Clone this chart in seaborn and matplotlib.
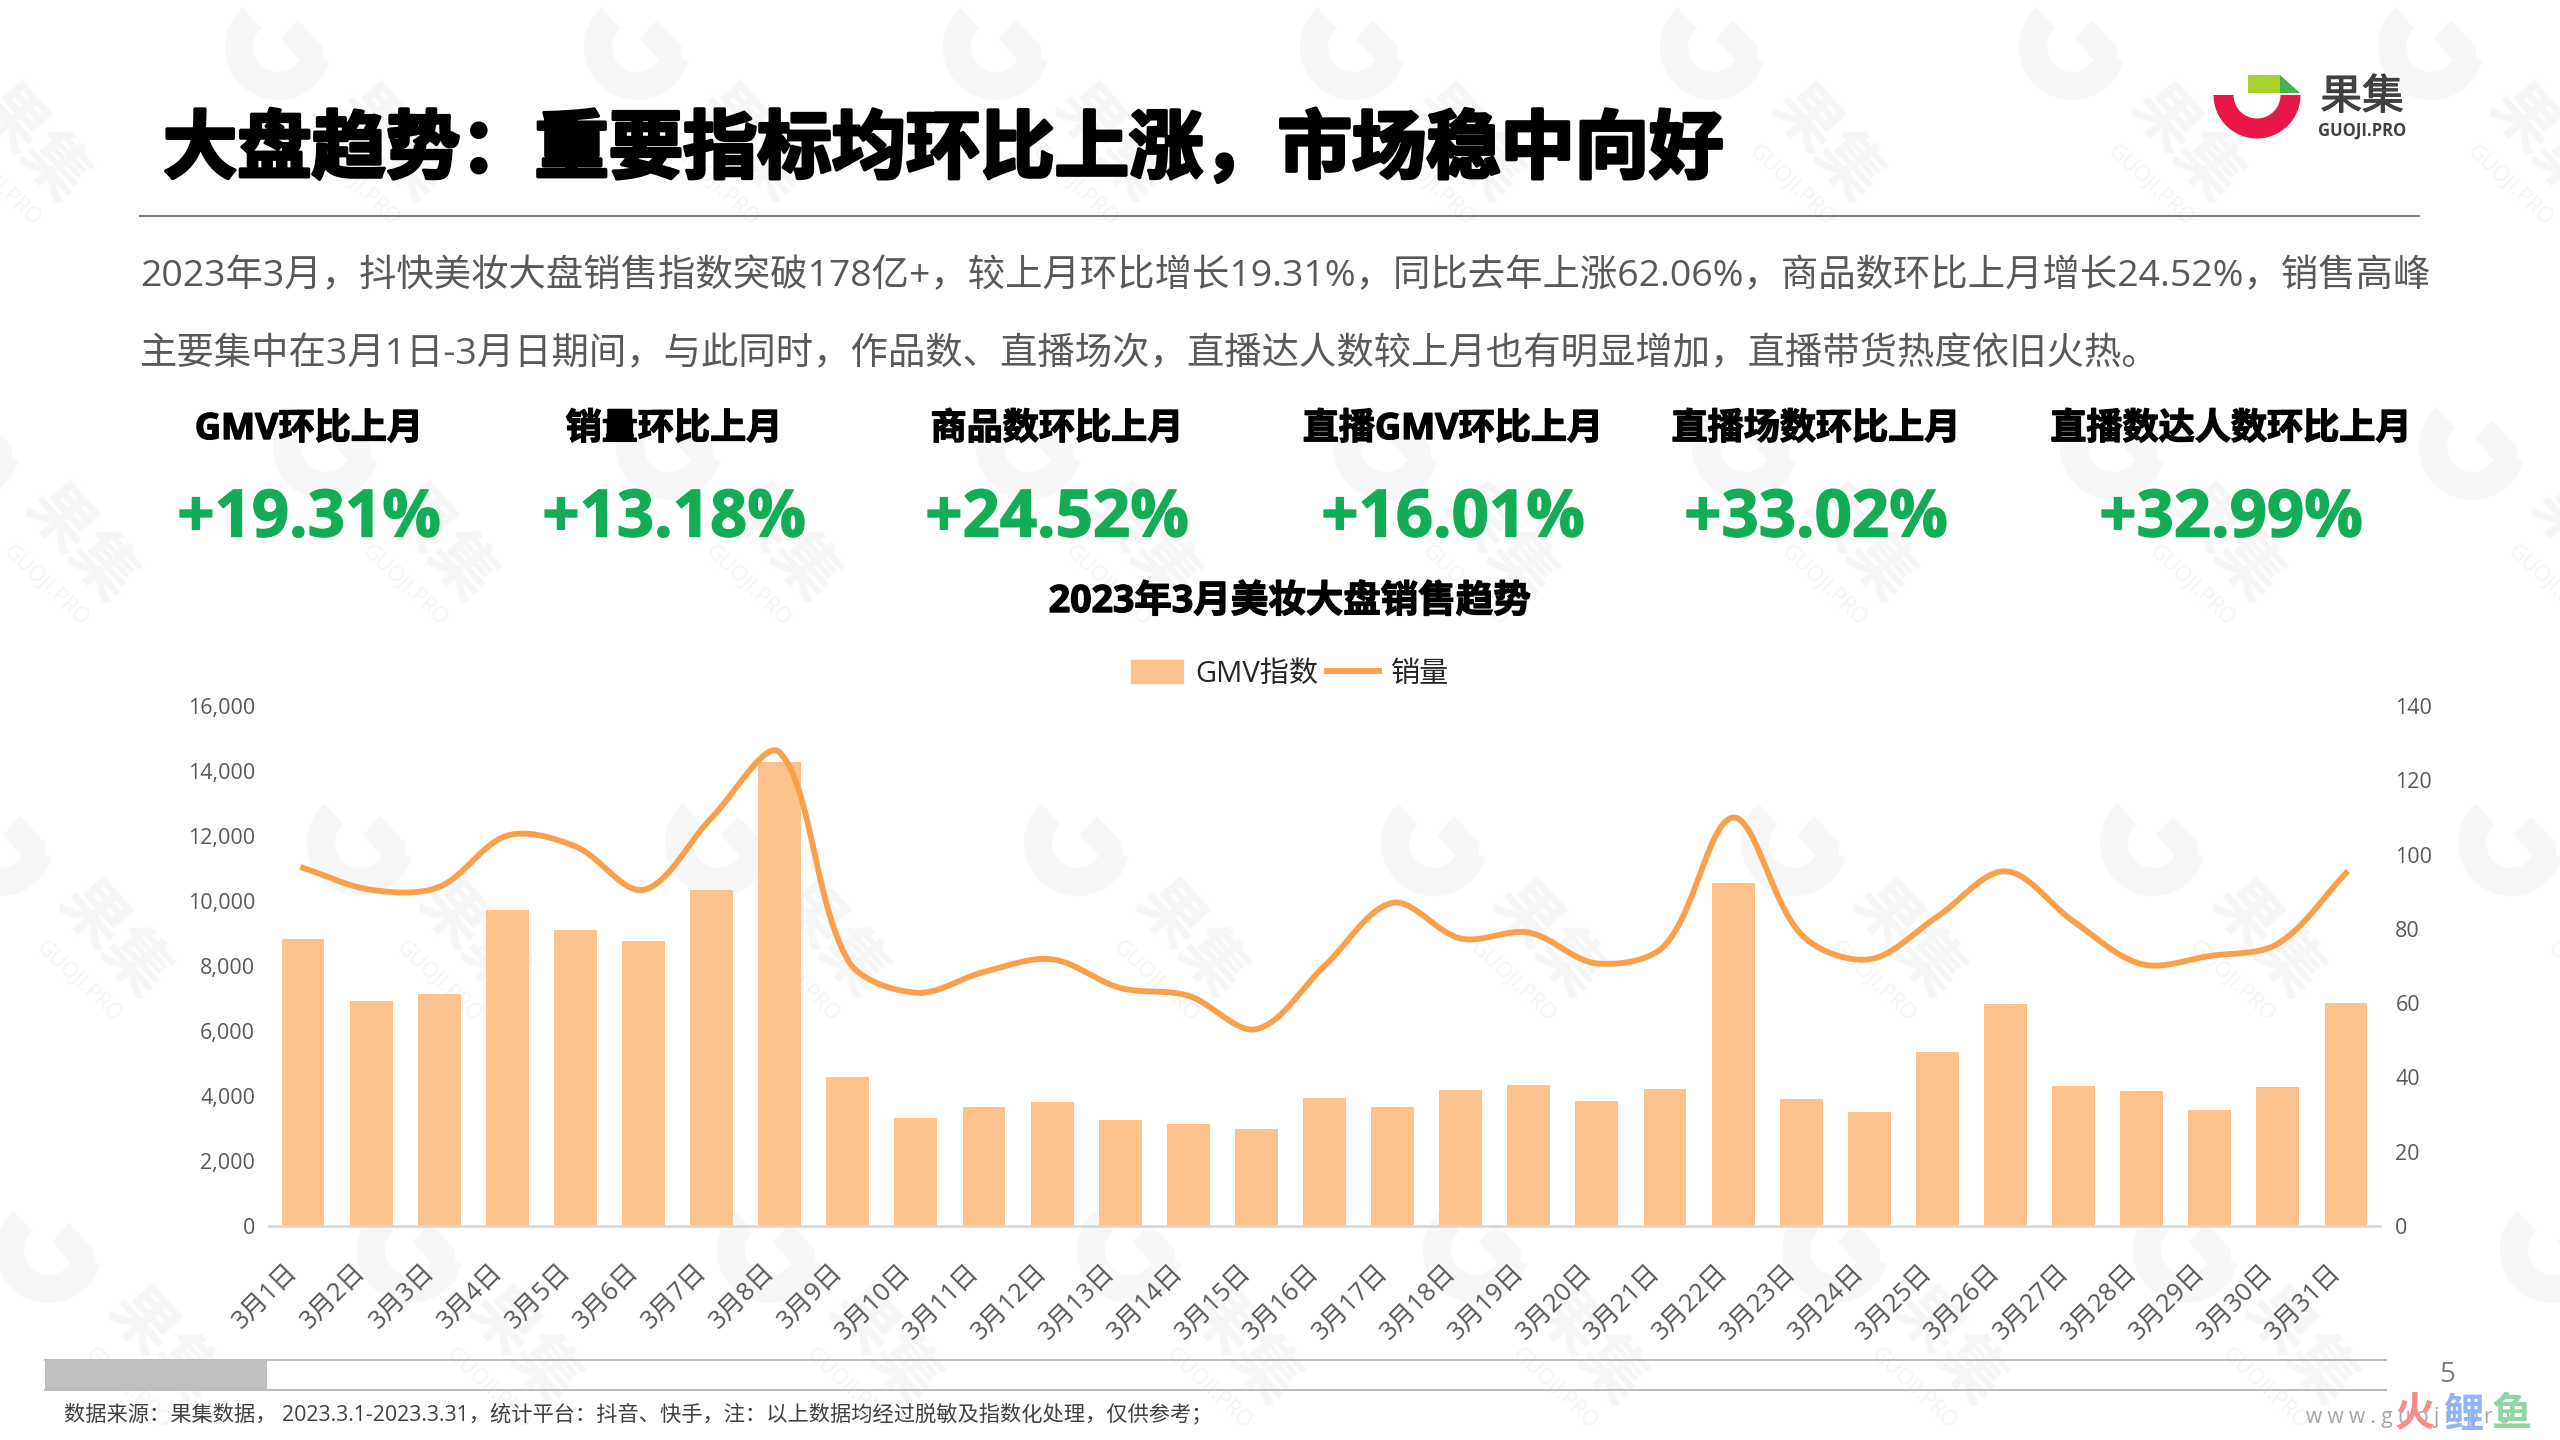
import numpy as np
import pandas as pd
import matplotlib.pyplot as plt
import matplotlib.patheffects as pe
from matplotlib.patches import Wedge, Polygon, Rectangle
from matplotlib.lines import Line2D
import seaborn as sns

plt.rcParams['font.family'] = ['Open Sans', 'Noto Sans CJK SC', 'DejaVu Sans']

days = [f"3月{d}日" for d in range(1, 32)]
gmv = [8840, 6930, 7150, 9730, 9120, 8780, 10350, 14270, 4600, 3310, 3670, 3830, 3270, 3150, 2970, 3950,
       3670, 4190, 4350, 3850, 4220, 10550, 3910, 3510, 5360, 6830, 4320, 4160, 3570, 4290, 6870]
sales = [96.4, 90.5, 91.3, 105.1, 102.2, 90.5, 109.9, 127.5, 71.6, 62.8, 68.4, 71.8, 64.1, 62, 53, 70,
         87, 77.4, 79, 70.7, 75.6, 110, 78.5, 71.8, 83.3, 95.5, 82, 70.5, 72.7, 76, 95]

kpi_names = ["GMV环比上月", "销量环比上月", "商品数环比上月", "直播GMV环比上月", "直播场数环比上月", "直播数达人数环比上月"]
kpi_values = ["+19.31%", "+13.18%", "+24.52%", "+16.01%", "+33.02%", "+32.99%"]
kpi_x = [309, 674, 1057, 1453, 1816, 2231]

title = "大盘趋势\uff1a重要指标均环比上涨\uff0c市场稳中向好"
body_1 = ("2023年3月\uff0c抖快美妆大盘销售指数突破178亿+\uff0c较上月环比增长19.31%\uff0c同比去年上涨62.06%\uff0c"
          "商品数环比上月增长24.52%\uff0c销售高峰")
body_2 = ("主要集中在3月1日-3月日期间\uff0c与此同时\uff0c作品数、直播场次\uff0c直播达人数较上月也有明显增加\uff0c"
          "直播带货热度依旧火热。")
footer = ("数据来源\uff1a果集数据\uff0c 2023.3.1-2023.3.31\uff0c统计平台\uff1a抖音、快手\uff0c注\uff1a"
          "以上数据均经过脱敏及指数化处理\uff0c仅供参考\uff1b")

# watermark rows: y, then the x of each mark
wm_rows = [(47, [-81, 278, 637, 996, 1353, 1713, 2072, 2431]),
           (447, [-33, 326, 669, 1029, 1386, 1745, 2113, 2472]),
           (843, [0, 360, 718, 1077, 1434, 1794, 2153, 2511]),
           (1250, [49, 410, 770, 1130, 1476, 1835, 2186, 2553])]

fig = plt.figure(figsize=(25.6, 14.4), dpi=100)

# --- Page furniture, in pixel coordinates ---
bg = fig.add_axes([0, 0, 1, 1], zorder=-1)
bg.set_xlim(0, 2560)
bg.set_ylim(1440, 0)
bg.axis('off')

for wm_y, wm_xs in wm_rows:
    for wm_x in wm_xs:
        bg.add_patch(Wedge((wm_x, wm_y), 53, 15, 228, width=28, color='#f7f7f7', lw=0, zorder=0.5))
        bg.add_patch(Polygon([[wm_x + 45, wm_y + 32], [wm_x + 45, wm_y], [wm_x + 20, wm_y - 27],
                              [wm_x + 3, wm_y - 8], [wm_x + 22, wm_y + 13]], color='#f7f7f7', lw=0, zorder=0.5))
        bg.text(wm_x + 112, wm_y + 98, "果集", fontsize=47, fontweight='bold', color='#f6f6f6',
                rotation=-48, ha='center', va='center', zorder=0.5)
        bg.text(wm_x + 79, wm_y + 139, "GUOJI.PRO", fontsize=15.5, color='#f4f4f4',
                rotation=-43, ha='center', va='center', zorder=0.5)

bg.plot([140, 2419], [216, 216], color='#808080', lw=1.5)
bg.text(163, 153, title, fontsize=53.5, fontweight='bold', color='black', va='center',
        path_effects=[pe.withStroke(linewidth=2.5, foreground='black')])
bg.text(140, 277, body_1, fontsize=26.9, color='#595959', va='center')
bg.text(140, 355, body_2, fontsize=26.9, color='#595959', va='center')

for i in range(6):
    bg.text(kpi_x[i], 430, kpi_names[i], fontsize=26, fontweight='bold', color='black', ha='center', va='center',
            path_effects=[pe.withStroke(linewidth=1, foreground='black')])
    bg.text(kpi_x[i], 520, kpi_values[i], fontsize=47, fontweight='bold', color='#12AD56', ha='center', va='center',
            path_effects=[pe.withStroke(linewidth=1, foreground='#12AD56')])

bg.text(1290, 602, "2023年3月美妆大盘销售趋势", fontsize=27, fontweight='bold', color='black', ha='center', va='center',
        path_effects=[pe.withStroke(linewidth=1, foreground='black')])

# logo
bg.add_patch(Wedge((2257, 95), 43.5, 0, 180, width=20, color='#E8174A', lw=0))
bg.add_patch(Rectangle((2248, 75), 32, 18, color='#A8D12B', lw=0))
bg.add_patch(Polygon([[2280, 75], [2300, 93], [2280, 93]], color='#4CAF50', lw=0))
bg.text(2362, 98, "果集", fontsize=30, color='#404040', ha='center', va='center',
        path_effects=[pe.withStroke(linewidth=0.8, foreground='#404040')])
bg.text(2362, 131, "GUOJI.PRO", fontsize=12, fontweight='bold', color='#404040', ha='center', va='center')

# scroll bar, page number, footer
bg.plot([45, 2386], [1360, 1360], color='#BFBFBF', lw=1.5)
bg.plot([45, 2386], [1390, 1390], color='#BFBFBF', lw=1.5)
bg.add_patch(Rectangle((45, 1360), 222, 30, color='#BFBFBF', lw=0))
bg.text(2447, 1375, "5", fontsize=20, color='#7f7f7f', ha='center', va='center')
bg.text(64, 1414, footer, fontsize=15.3, color='#404040', va='center')
bg.text(2408, 1417, "w w w . g u o j i . p r o", fontsize=15, color='#a6a6a6', ha='center', va='center')
bg.text(2415, 1416, "火", fontsize=29, fontweight='bold', color='#F98B8B', ha='center', va='center')
bg.text(2463, 1416, "鲤", fontsize=29, fontweight='bold', color='#8FB4F8', ha='center', va='center')
bg.text(2512, 1416, "鱼", fontsize=29, fontweight='bold', color='#8FD6A5', ha='center', va='center')

# --- Chart ---
ax = fig.add_axes([269 / 2560, 1 - 1226 / 1440, 2111 / 2560, 520 / 1440])
ax.patch.set_alpha(0)

df = pd.DataFrame({"day": days, "gmv": gmv, "sales": sales})
sns.barplot(data=df, x="day", y="gmv", color='#FDC38C', saturation=1, width=0.63, ax=ax)

ax.set_xlim(-0.5, 30.5)
ax.set_ylim(0, 16000)
ax.set_yticks(np.arange(0, 16001, 2000))
ax.set_yticklabels([f"{v:,}" for v in range(0, 16001, 2000)])
ax.set_xlabel("")
ax.set_ylabel("")
ax.tick_params(axis='y', length=0, pad=10, labelsize=15.5, labelcolor='#595959')
ax.tick_params(axis='x', length=0, pad=24, labelsize=18.5, labelcolor='#595959')
plt.setp(ax.get_xticklabels(), rotation=45, ha='right')
for side in ['top', 'left', 'right']:
    ax.spines[side].set_visible(False)
ax.spines['bottom'].set_color('#D9D9D9')
ax.spines['bottom'].set_linewidth(2)

# Smooth the line the way the spreadsheet does, through every read value
xp = np.arange(len(sales)) * 68.1  # on-screen scale, so the tangents come out right
yp = np.array(sales) * 520 / 140
smooth_x, smooth_y = [], []
t = np.linspace(0, 1, 21)[:-1]
for i in range(len(sales) - 1):
    a, b = max(i - 1, 0), min(i + 2, len(sales) - 1)
    d_prev = np.hypot(xp[i] - xp[a], yp[i] - yp[a])
    d_cur = np.hypot(xp[i + 1] - xp[i], yp[i + 1] - yp[i])
    d_next = np.hypot(xp[b] - xp[i + 1], yp[b] - yp[i + 1])
    k1 = d_cur / (d_prev + d_cur) / 3
    k2 = d_cur / (d_cur + d_next) / 3
    c1x, c1y = xp[i] + (xp[i + 1] - xp[a]) * k1, yp[i] + (yp[i + 1] - yp[a]) * k1
    c2x, c2y = xp[i + 1] - (xp[b] - xp[i]) * k2, yp[i + 1] - (yp[b] - yp[i]) * k2
    smooth_x.extend((1 - t) ** 3 * xp[i] + 3 * (1 - t) ** 2 * t * c1x + 3 * (1 - t) * t ** 2 * c2x + t ** 3 * xp[i + 1])
    smooth_y.extend((1 - t) ** 3 * yp[i] + 3 * (1 - t) ** 2 * t * c1y + 3 * (1 - t) * t ** 2 * c2y + t ** 3 * yp[i + 1])
smooth_x = np.r_[smooth_x, xp[-1]] / 68.1
smooth_y = np.r_[smooth_y, yp[-1]] * 140 / 520

ax2 = ax.twinx()
sns.lineplot(x=smooth_x, y=smooth_y, color='#F9A04A', linewidth=4.2, sort=False, errorbar=None, ax=ax2)
ax2.set_xlim(-0.5, 30.5)
ax2.set_ylim(0, 140)
ax2.set_yticks(range(0, 141, 20))
ax2.set_ylabel("")
ax2.tick_params(axis='y', length=0, pad=11, labelsize=15.5, labelcolor='#595959')
for side in ['top', 'left', 'right', 'bottom']:
    ax2.spines[side].set_visible(False)

handles = [Rectangle((0, 0), 1, 1, color='#FDC38C'), Line2D([0], [0], color='#F9A04A', lw=4.2)]
ax2.legend(handles, ["GMV指数", "销量"], loc='center', bbox_to_anchor=(1021 / 2111, 1 + 32 / 520), ncol=2,
           frameon=False, fontsize=21, labelcolor='#262626', handlelength=1.8, handleheight=0.8,
           handletextpad=0.4, columnspacing=0.3)

plt.savefig("out.png", dpi=100)
